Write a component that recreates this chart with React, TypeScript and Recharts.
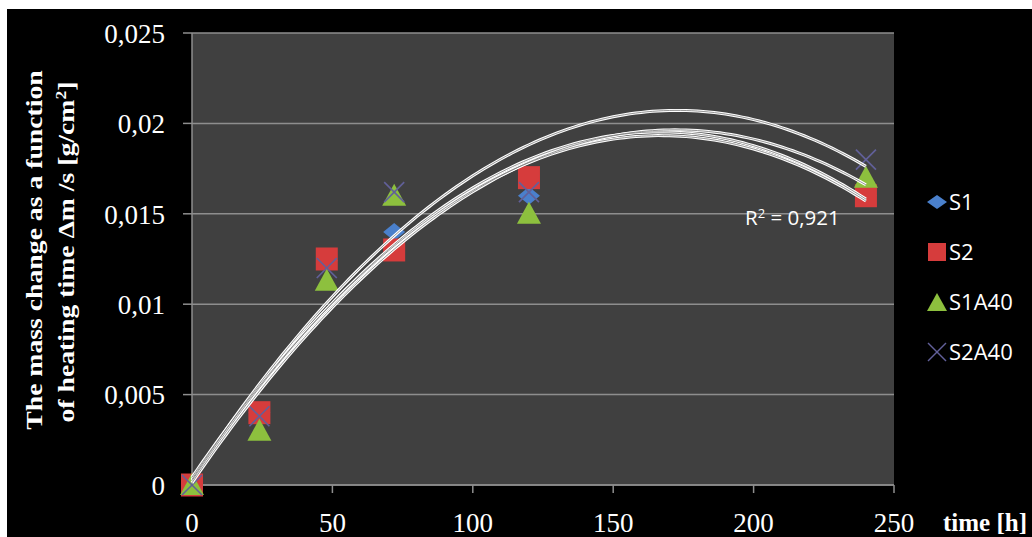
import React from "react";
import { ScatterChart, Scatter, XAxis, YAxis, CartesianGrid } from "recharts";

// ---- data ----
const times = [0, 24, 48, 72, 120, 240];
const s1 = [0, 0.004, 0.0124, 0.014, 0.016, 0.016];
const s2 = [0, 0.004, 0.0125, 0.013, 0.017, 0.016];
const s1a40 = [0, 0.003, 0.0113, 0.016, 0.015, 0.017];
const s2a40 = [0, 0.0038, 0.012, 0.0162, 0.0162, 0.018];
const seriesNames = ["S1", "S2", "S1A40", "S2A40"];
const xTicks = [0, 50, 100, 150, 200, 250];
const yTicks = [0, 0.005, 0.01, 0.015, 0.02, 0.025];
const r2Label = "0,921";
const yTitle1 = "The mass change as a function";
const yTitle2a = "of heating time Δm /s [g/cm";
const xTitle = "time [h]";

const toPts = (ys: number[]) => times.map((t, i) => ({ x: t, y: ys[i] }));

// least-squares polynomial (order 2) trendline, like the spreadsheet's
function quadFit(xs: number[], ys: number[]) {
  let s0 = 0, s1_ = 0, s2_ = 0, s3 = 0, s4 = 0, t0 = 0, t1 = 0, t2 = 0;
  xs.forEach((x, i) => {
    const y = ys[i];
    s0 += 1; s1_ += x; s2_ += x * x; s3 += x * x * x; s4 += x * x * x * x;
    t0 += y; t1 += x * y; t2 += x * x * y;
  });
  const A = [
    [s0, s1_, s2_, t0],
    [s1_, s2_, s3, t1],
    [s2_, s3, s4, t2],
  ];
  for (let i = 0; i < 3; i++) {
    let p = i;
    for (let r = i + 1; r < 3; r++) if (Math.abs(A[r][i]) > Math.abs(A[p][i])) p = r;
    [A[i], A[p]] = [A[p], A[i]];
    for (let r = 0; r < 3; r++) {
      if (r === i) continue;
      const f = A[r][i] / A[i][i];
      for (let c = i; c < 4; c++) A[r][c] -= f * A[i][c];
    }
  }
  const c0 = A[0][3] / A[0][0], c1 = A[1][3] / A[1][1], c2 = A[2][3] / A[2][2];
  const pts: { x: number; y: number }[] = [];
  for (let x = 0; x <= 240; x += 2) pts.push({ x, y: c0 + c1 * x + c2 * x * x });
  return pts;
}

const allSeries = [s1, s2, s1a40, s2a40];
const trends = allSeries.map((ys) => quadFit(times, ys));

// ---- marker shapes ----
const Diamond = (p: any) => (
  <polygon
    points={`${p.cx},${p.cy - 9} ${p.cx + 11},${p.cy} ${p.cx},${p.cy + 9} ${p.cx - 11},${p.cy}`}
    fill="#4a80cc"
  />
);
const Square = (p: any) => (
  <rect x={p.cx - 11} y={p.cy - 11.5} width={22} height={23} fill="#d63c3c" />
);
const Triangle = (p: any) => (
  <polygon
    points={`${p.cx},${p.cy - 12} ${p.cx + 12},${p.cy + 10} ${p.cx - 12},${p.cy + 10}`}
    fill="#8dc03e"
  />
);
const Cross = (p: any) => (
  <g stroke="#62609a" strokeWidth={1.6}>
    <line x1={p.cx - 10} y1={p.cy - 10} x2={p.cx + 10} y2={p.cy + 10} />
    <line x1={p.cx - 10} y1={p.cy + 10} x2={p.cx + 10} y2={p.cy - 10} />
  </g>
);
const NoShape = () => <g />;

const serif = "'Liberation Serif', 'DejaVu Serif', serif";
const sans = "'Open Sans', 'Liberation Sans', sans-serif";

const YTick = (p: any) => {
  const v = p.payload.value;
  return (
    <text x={165} y={p.y} dy="0.36em" textAnchor="end" fill="#fff" fontSize={27} fontFamily={serif}>
      {String(v).replace(".", ",")}
    </text>
  );
};
const XTick = (p: any) => (
  <text x={p.x} y={532} textAnchor="middle" fill="#fff" fontSize={27} fontFamily={serif}>
    {p.payload.value}
  </text>
);

const legendShapes = [
  <polygon key="d" points="10,3 20,10 10,17 0,10" fill="#4a80cc" />,
  <rect key="s" x={1} y={1} width={18} height={18} fill="#d63c3c" />,
  <polygon key="t" points="10,1 20,19 0,19" fill="#8dc03e" />,
  <g key="x" stroke="#62609a" strokeWidth={1.4}>
    <line x1={1} y1={1} x2={19} y2={19} />
    <line x1={1} y1={19} x2={19} y2={1} />
  </g>,
];
const legendY = [202, 252, 302, 352];

export default function App() {
  const shapes = [Diamond, Square, Triangle, Cross];
  return (
    <div style={{ position: "fixed", left: 0, top: 0, width: 1032, height: 537, background: "#fff", overflow: "hidden" }}>
      <div style={{ position: "absolute", left: 7, top: 9, width: 1025, height: 528, background: "#000" }} />
      <div style={{ position: "absolute", left: 0, top: 0 }}>
        <ScatterChart width={1032} height={537} margin={{ top: 33, right: 138, bottom: 12, left: 0 }}>
          <CartesianGrid vertical={false} stroke="#8e8e8e" strokeWidth={1.5} fill="#404040" fillOpacity={1} />
          <XAxis
            type="number"
            dataKey="x"
            domain={[0, 250]}
            ticks={xTicks}
            height={40}
            stroke="#8e8e8e"
            strokeWidth={1.5}
            tickSize={8}
            tick={<XTick />}
          />
          <YAxis
            type="number"
            dataKey="y"
            domain={[0, 0.025]}
            ticks={yTicks}
            width={192}
            stroke="#8e8e8e"
            strokeWidth={1.5}
            tickSize={9}
            tick={<YTick />}
          />
          {allSeries.map((ys, i) => (
            <Scatter
              key={seriesNames[i]}
              name={seriesNames[i]}
              data={toPts(ys)}
              shape={shapes[i]}
              isAnimationActive={false}
            />
          ))}
          {trends.map((pts, i) => (
            <Scatter
              key={"tw" + i}
              data={pts}
              line={{ stroke: "#ffffff", strokeWidth: 3 }}
              shape={NoShape}
              isAnimationActive={false}
              legendType="none"
            />
          ))}
          {trends.map((pts, i) => (
            <Scatter
              key={"td" + i}
              data={pts}
              line={{ stroke: "#7a7a7a", strokeWidth: 0.8 }}
              shape={NoShape}
              isAnimationActive={false}
              legendType="none"
            />
          ))}
        </ScatterChart>
      </div>
      <svg width={1032} height={537} style={{ position: "absolute", left: 0, top: 0, pointerEvents: "none" }}>
        <text
          transform="translate(42,250) rotate(-90) scale(1.18,1)"
          textAnchor="middle"
          fill="#fff"
          fontSize={23.5}
          fontWeight="bold"
          fontFamily={serif}
        >
          {yTitle1}
        </text>
        <text
          transform="translate(74,252) rotate(-90) scale(1.18,1)"
          textAnchor="middle"
          fill="#fff"
          fontSize={23.5}
          fontWeight="bold"
          fontFamily={serif}
        >
          {yTitle2a}
          <tspan dy={-8} fontSize={15}>2</tspan>
          <tspan dy={8}>]</tspan>
        </text>
        <text x={943} y={531} fill="#fff" fontSize={25} fontWeight="bold" fontFamily={serif}>
          {xTitle}
        </text>
        <text x={745} y={225} fill="#fff" fontSize={20.5} fontFamily={sans}>
          R<tspan dy={-7} fontSize={13}>2</tspan>
          <tspan dy={7}>{" = " + r2Label}</tspan>
        </text>
        {seriesNames.map((n, i) => (
          <g key={n}>
            <g transform={`translate(927,${legendY[i] - 10})`}>{legendShapes[i]}</g>
            <text x={949} y={legendY[i]} dy="0.36em" fill="#fff" fontSize={22} fontFamily={sans}>
              {n}
            </text>
          </g>
        ))}
      </svg>
    </div>
  );
}
